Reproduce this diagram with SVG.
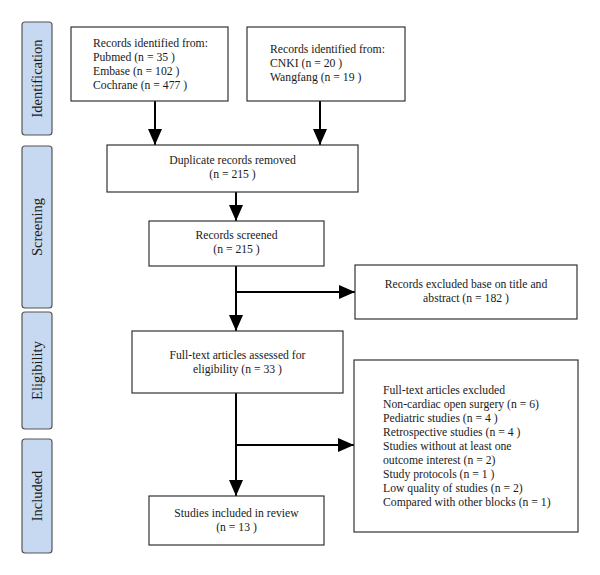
<svg xmlns="http://www.w3.org/2000/svg" width="600" height="575" viewBox="0 0 600 575">
<defs>
<marker id="ah" viewBox="0 0 10 10" refX="10" refY="5" markerWidth="8" markerHeight="7" markerUnits="strokeWidth" orient="auto" preserveAspectRatio="none">
<path d="M0,0 L10,5 L0,10 Z" fill="#000"/>
</marker>
<style>
.side{fill:#c6d9f0;stroke:#555;stroke-width:1.2}
.box{fill:#fff;stroke:#333;stroke-width:1.2}
text{font-family:"Liberation Serif","Times New Roman",serif;font-size:11.7px;fill:#1a1a1a}
.c{text-anchor:middle}
.lab{font-size:14.5px;text-anchor:middle}
.ln{fill:none;stroke:#000;stroke-width:2}
</style>
</defs>
<rect width="600" height="575" fill="#fff"/>
<g id="stage-identification"><rect class="side" x="22" y="22" width="30" height="113" rx="3"/><text class="lab" transform="translate(42,78.5) rotate(-90)">Identification</text></g>
<g id="stage-screening"><rect class="side" x="22" y="146" width="30" height="162" rx="3"/><text class="lab" transform="translate(42,227) rotate(-90)">Screening</text></g>
<g id="stage-eligibility"><rect class="side" x="22" y="312" width="30" height="117" rx="3"/><text class="lab" transform="translate(42,370.5) rotate(-90)">Eligibility</text></g>
<g id="stage-included"><rect class="side" x="22" y="439" width="30" height="114" rx="3"/><text class="lab" transform="translate(42,496) rotate(-90)">Included</text></g>

<g id="connectors">
<path class="ln" d="M155,101 V145" marker-end="url(#ah)"/>
<path class="ln" d="M320,101 V145" marker-end="url(#ah)"/>
<path class="ln" d="M236,192 V221" marker-end="url(#ah)"/>
<path class="ln" d="M236,266 V331" marker-end="url(#ah)"/>
<path class="ln" d="M236,292 H355" marker-end="url(#ah)"/>
<path class="ln" d="M236,393 V496" marker-end="url(#ah)"/>
<path class="ln" d="M236,445 H354" marker-end="url(#ah)"/>
</g>

<g id="n-records-db1"><rect class="box" x="71" y="27" width="157" height="74"/>
<text x="93" y="47">Records identified from:</text>
<text x="93" y="61">Pubmed (n = 35 )</text>
<text x="93" y="75">Embase (n = 102 )</text>
<text x="93" y="89">Cochrane (n = 477 )</text></g>
<g id="n-records-db2"><rect class="box" x="247" y="27" width="158" height="74"/>
<text x="270" y="53">Records identified from:</text>
<text x="270" y="67">CNKI (n = 20 )</text>
<text x="270" y="81">Wangfang (n = 19 )</text></g>
<g id="n-duplicates"><rect class="box" x="107" y="145" width="251" height="47"/>
<text class="c" x="232.5" y="164">Duplicate records removed</text>
<text class="c" x="232.5" y="178">(n = 215 )</text></g>
<g id="n-screened"><rect class="box" x="149" y="221" width="175" height="45"/>
<text class="c" x="236.5" y="239">Records screened</text>
<text class="c" x="236.5" y="253">(n = 215 )</text></g>
<g id="n-excluded-title"><rect class="box" x="355" y="265" width="222" height="54"/>
<text class="c" x="466" y="288">Records excluded base on title and</text>
<text class="c" x="466" y="302">abstract (n = 182 )</text></g>
<g id="n-fulltext"><rect class="box" x="132" y="331" width="211" height="62"/>
<text class="c" x="237.5" y="359">Full-text articles assessed for</text>
<text class="c" x="237.5" y="373">eligibility (n = 33 )</text></g>
<g id="n-fulltext-excluded"><rect class="box" x="354" y="360" width="224" height="172"/>
<text x="383" y="394">Full-text articles excluded</text>
<text x="383" y="408">Non-cardiac open surgery (n = 6)</text>
<text x="383" y="422">Pediatric studies (n = 4 )</text>
<text x="383" y="436">Retrospective studies (n = 4 )</text>
<text x="383" y="450">Studies without at least one</text>
<text x="383" y="464">outcome interest (n = 2)</text>
<text x="383" y="478">Study protocols (n = 1 )</text>
<text x="383" y="492">Low quality of studies (n = 2)</text>
<text x="383" y="506">Compared with other blocks (n = 1)</text></g>
<g id="n-included"><rect class="box" x="149" y="496" width="175" height="49"/>
<text class="c" x="236.5" y="517">Studies included in review</text>
<text class="c" x="236.5" y="531">(n = 13 )</text></g>
</svg>
